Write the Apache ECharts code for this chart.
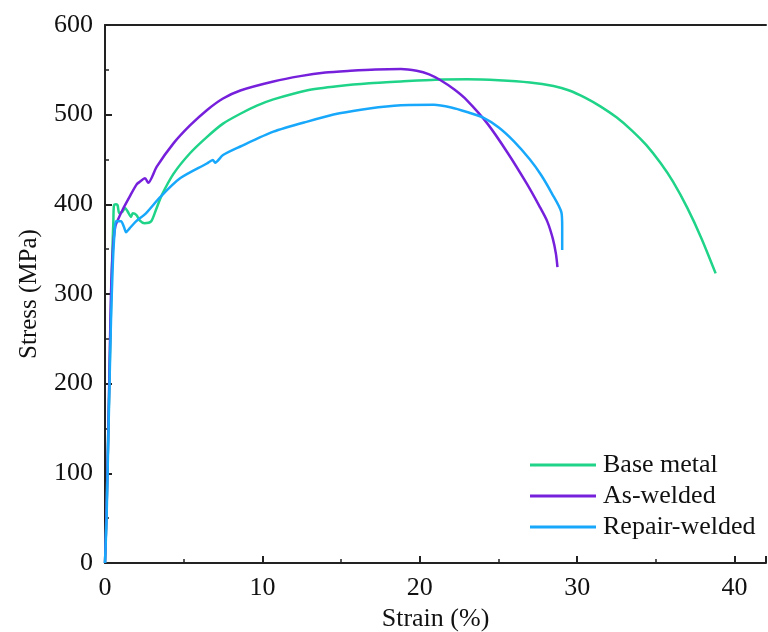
<!DOCTYPE html>
<html>
<head>
<meta charset="utf-8">
<script src="https://cdn.jsdelivr.net/npm/echarts@6/dist/echarts.min.js"></script>
<style>
  html, body { margin: 0; padding: 0; background: #fff; }
  #chart { width: 768px; height: 632px; }
</style>
</head>
<body>
<div id="chart"></div>
<script>
// [strain %, stress MPa]
const baseMetal = [
  [0, 0], [0.1, 60], [0.2, 140], [0.3, 220], [0.4, 300], [0.48, 355], [0.53, 380], [0.57, 399],
  [0.7, 400], [0.8, 399], [0.91, 390], [1.12, 392], [1.27, 396], [1.44, 392], [1.65, 386],
  [1.76, 390], [2.0, 388], [2.2, 382], [2.5, 379], [2.93, 381], [3.24, 394], [3.6, 410],
  [4.35, 434], [5.4, 457], [6.47, 475], [7.5, 490], [8.6, 501], [9.65, 510], [10.7, 517],
  [12.8, 527], [14.9, 532], [16.8, 535], [18.8, 537], [21, 539], [23, 539.5], [25, 538.5],
  [27, 536], [28.5, 532], [29.5, 527], [30.5, 519], [31.5, 509], [32.5, 497], [33.5, 482],
  [34.4, 466], [35.3, 446], [36.1, 425], [37.0, 396], [37.9, 362], [38.8, 323]
];
const asWelded = [
  [0, 0], [0.1, 60], [0.2, 140], [0.3, 230], [0.38, 300], [0.5, 350], [0.65, 375], [0.8, 382],
  [1.12, 394], [1.55, 408], [2.0, 422], [2.2, 425], [2.54, 429], [2.75, 424], [3.29, 442],
  [4.35, 468], [5.4, 488], [6.47, 505], [7.5, 518], [8.6, 527], [10.7, 537], [12.4, 543],
  [14, 547], [15.6, 549], [17.2, 550.5], [18.8, 551], [19.8, 549], [20.6, 545], [21.3, 538.6],
  [22.2, 528], [23, 516], [24.3, 490], [25.6, 457], [26.8, 423], [27.6, 398], [28.1, 381],
  [28.45, 362], [28.65, 345], [28.75, 330]
];
const repairWelded = [
  [0, 0], [0.1, 50], [0.2, 130], [0.3, 210], [0.38, 270], [0.5, 335], [0.62, 372], [0.7, 381],
  [1.02, 381], [1.2, 375], [1.34, 369], [1.55, 373], [1.97, 381], [2.6, 390], [3.5, 408],
  [4.77, 429], [6.47, 445.5], [6.85, 449.5], [7.0, 446.5], [7.5, 455], [8.6, 464.5],
  [10.7, 481], [12.8, 492], [14.9, 501.5], [16.8, 507], [18.8, 510.5], [20.9, 511], [22, 508],
  [23, 503], [24, 497], [25, 486], [26, 470], [27, 450], [27.7, 433], [28.4, 412],
  [29.0, 391], [29.05, 375], [29.05, 349]
];
const seriesNames = ['Base metal', 'As-welded', 'Repair-welded'];
const seriesColors = ['#1fd488', '#7620dc', '#18a8fb'];
const xTicks = [0, 10, 20, 30, 40];
const yTicks = [0, 100, 200, 300, 400, 500, 600];

const font = 'Liberation Serif';
const chart = echarts.init(document.getElementById('chart'));

const axisCommon = {
  axisLine: { lineStyle: { color: '#222', width: 2 } },
  axisTick: { inside: true, length: 7, lineStyle: { color: '#222', width: 2 } },
  minorTick: { show: true, splitNumber: 2, length: 4, lineStyle: { color: '#222', width: 1.5 } },
  splitLine: { show: false },
  axisLabel: { color: '#111', fontFamily: font, fontSize: 26 },
  nameTextStyle: { color: '#111', fontFamily: font, fontSize: 26 }
};

chart.setOption({
  animation: false,
  backgroundColor: '#fff',
  grid: { left: 105, top: 25, right: 2, bottom: 69, outerBoundsMode: 'none' },
  legend: {
    orient: 'vertical',
    left: 530,
    top: 452,
    padding: 0,
    itemGap: 5,
    itemWidth: 66,
    itemHeight: 3,
    icon: 'rect',
    textStyle: { color: '#111', fontFamily: font, fontSize: 26, lineHeight: 23, padding: [0, 0, 0, 2] },
    data: seriesNames
  },
  xAxis: [
    Object.assign({}, axisCommon, {
      type: 'value',
      min: 0,
      max: 42,
      interval: 10,
      name: 'Strain (%)',
      nameLocation: 'middle',
      nameGap: 42,
      axisLabel: Object.assign({}, axisCommon.axisLabel, {
        margin: 12,
        formatter: v => (xTicks.includes(v) ? String(v) : '')
      })
    }),
    {
      type: 'value', position: 'top', min: 0, max: 42,
      axisLine: { show: true, lineStyle: { color: '#222', width: 2 } },
      axisTick: { show: false }, axisLabel: { show: false }, splitLine: { show: false }
    }
  ],
  yAxis: Object.assign({}, axisCommon, {
    type: 'value',
    min: 0,
    max: 600,
    interval: 100,
    name: 'Stress (MPa)',
    nameLocation: 'middle',
    nameGap: 63,
    nameTextStyle: Object.assign({}, axisCommon.nameTextStyle, { fontSize: 25 }),
    axisLabel: Object.assign({}, axisCommon.axisLabel, {
      margin: 12,
      formatter: v => (yTicks.includes(v) ? String(v) : '')
    })
  }),
  series: [baseMetal, asWelded, repairWelded].map((d, i) => ({
    name: seriesNames[i],
    type: 'line',
    data: d,
    showSymbol: false,
    smooth: 0.25,
    color: seriesColors[i],
    lineStyle: { width: 2.5, color: seriesColors[i] }
  }))
});
</script>
</body>
</html>
